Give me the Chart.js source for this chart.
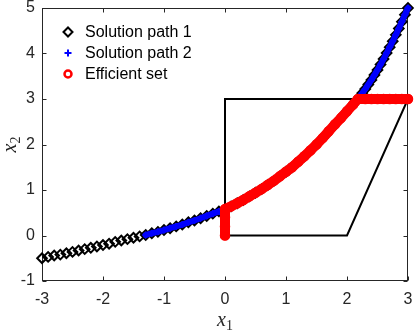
<!DOCTYPE html>
<html><head><meta charset="utf-8">
<script src="https://cdn.jsdelivr.net/npm/chart.js@4/dist/chart.umd.min.js"></script>
<style>html,body{margin:0;padding:0;background:#fff;overflow:hidden}canvas{display:block}</style>
</head><body>
<canvas id="c" width="416" height="333"></canvas>
<script>
// ---- data ----
const path1X = [-3.0,-2.9,-2.8,-2.7,-2.6,-2.5,-2.4,-2.3,-2.2,-2.1,-2.0,-1.9,-1.8,-1.7,-1.6,-1.5,-1.4,-1.3,-1.2,-1.1,
  -1.0,-0.9,-0.8,-0.7,-0.6,-0.5,-0.4,-0.3,-0.2,-0.1,0.0,0.1,0.2,0.3,0.4,0.5,0.6,0.7,0.8,0.9,1.0,
  1.05,1.1,1.15,1.2,1.25,1.3,1.35,1.4,1.45,1.5,1.55,1.6,1.65,1.7,1.75,1.8,1.85,1.9,1.95,2.0,
  2.05,2.1,2.15,2.2,2.25,2.3,2.35,2.4,2.45,2.5,2.55,2.6,2.65,2.7,2.75,2.8,2.85,2.9,2.95,3.0];
const path1Y = [-0.50,-0.47,-0.44,-0.42,-0.39,-0.36,-0.33,-0.30,-0.27,-0.24,-0.21,-0.18,-0.14,-0.11,-0.08,-0.05,-0.02,0.01,0.05,0.08,
  0.12,0.16,0.20,0.24,0.29,0.33,0.38,0.43,0.48,0.53,0.58,0.64,0.71,0.78,0.86,0.94,1.02,1.11,1.20,1.30,1.40,
  1.45,1.50,1.56,1.62,1.68,1.74,1.80,1.87,1.93,2.00,2.07,2.14,2.21,2.29,2.36,2.44,2.51,2.58,2.66,2.73,
  2.81,2.88,2.96,3.04,3.13,3.22,3.32,3.42,3.53,3.64,3.76,3.88,4.01,4.14,4.27,4.41,4.55,4.70,4.85,5.00];
const path2FromX = -1.3;
const effX = [0,0,0,0,0.1,0.2,0.3,0.4,0.5,0.6,0.7,0.8,0.9,1.0,1.1,1.2,1.3,1.4,1.5,1.6,1.7,1.8,1.9,2.0,2.1,2.18,2.3,2.4,2.5,2.6,2.7,2.8,2.9,3.0];
const effY = [0,0.2,0.4,0.58,0.64,0.71,0.78,0.86,0.94,1.02,1.11,1.20,1.30,1.40,1.50,1.62,1.74,1.87,2.00,2.14,2.29,2.44,2.58,2.73,2.88,3.0,3,3,3,3,3,3,3,3];
const polyX = [0,2,3,0,0];
const polyY = [0,0,3,3,0];
const xTicks = [-3,-2,-1,0,1,2,3];
const yTicks = [-1,0,1,2,3,4,5];
const legendLabels = ['Solution path 1','Solution path 2','Efficient set'];

const pts = (xs, ys) => xs.map((x, i) => ({x: x, y: ys[i]}));
const path1 = pts(path1X, path1Y);
const path2 = path1.filter(p => p.x >= path2FromX - 1e-9);

const SANS = "'Liberation Sans', Arial, Helvetica, sans-serif";
const SERIF = "'Liberation Serif', 'Times New Roman', serif";
const AX = '#262626';

function marker(ctx, style, x, y, r, lw, color) {
  ctx.save();
  ctx.strokeStyle = color; ctx.lineWidth = lw; ctx.beginPath();
  if (style === 'rectRot') { ctx.moveTo(x - r, y); ctx.lineTo(x, y - r); ctx.lineTo(x + r, y); ctx.lineTo(x, y + r); ctx.closePath(); }
  else if (style === 'cross') { ctx.moveTo(x - r, y); ctx.lineTo(x + r, y); ctx.moveTo(x, y - r); ctx.lineTo(x, y + r); }
  else { ctx.arc(x, y, r, 0, Math.PI * 2); }
  ctx.stroke(); ctx.restore();
}

const frame = {
  id: 'frame',
  beforeDatasetsDraw(chart) {
    const {ctx, chartArea: a, scales} = chart;
    ctx.save();
    ctx.strokeStyle = AX; ctx.lineWidth = 1;
    const L = Math.round(a.left) + 0.5, R = Math.round(a.right) - 0.5, T = Math.round(a.top) + 0.5, B = Math.round(a.bottom) - 0.5;
    ctx.strokeRect(L, T, R - L, B - T);
    ctx.beginPath();
    xTicks.forEach(v => { const px = Math.round(scales.x.getPixelForValue(v)) + 0.5; ctx.moveTo(px, B); ctx.lineTo(px, B - 4); ctx.moveTo(px, T); ctx.lineTo(px, T + 4); });
    yTicks.forEach(v => { const py = Math.round(scales.y.getPixelForValue(v)) + 0.5; ctx.moveTo(L, py); ctx.lineTo(L + 4, py); ctx.moveTo(R, py); ctx.lineTo(R - 4, py); });
    ctx.stroke();
    ctx.restore();
  },
  afterDraw(chart) {
    const {ctx, chartArea: a} = chart;
    ctx.save();
    // legend
    const styles = [['rectRot', 4.5, 2, '#000'], ['cross', 3.5, 2, '#0000ff'], ['circle', 3.5, 2.5, '#ff0000']];
    legendLabels.forEach((t, i) => {
      const y = 32 + i * 21;
      const s = styles[i];
      marker(ctx, s[0], 68, y, s[1], s[2], s[3]);
      ctx.fillStyle = '#000'; ctx.font = '16px ' + SANS; ctx.textBaseline = 'middle'; ctx.textAlign = 'left';
      ctx.fillText(t, 85, y + 1);
    });
    // axis titles
    ctx.fillStyle = AX; ctx.textBaseline = 'alphabetic'; ctx.textAlign = 'left';
    const cx = (a.left + a.right) / 2;
    ctx.font = 'italic 20px ' + SERIF;
    const wx = ctx.measureText('x').width;
    ctx.font = '14px ' + SERIF;
    const w1 = ctx.measureText('1').width;
    let x0 = cx - (wx + w1) / 2;
    ctx.font = 'italic 20px ' + SERIF; ctx.fillText('x', x0, 326);
    ctx.font = '14px ' + SERIF; ctx.fillText('1', x0 + wx, 330);
    ctx.save();
    ctx.translate(16, (a.top + a.bottom) / 2);
    ctx.rotate(-Math.PI / 2);
    x0 = -(wx + w1) / 2;
    ctx.font = 'italic 20px ' + SERIF; ctx.fillText('x', x0, 0);
    ctx.font = '14px ' + SERIF; ctx.fillText('2', x0 + wx, 4);
    ctx.restore();
    ctx.restore();
  }
};

new Chart(document.getElementById('c'), {
  type: 'scatter',
  data: {
    datasets: [
      { label: 'frame', data: pts(polyX, polyY), showLine: true, borderColor: '#000', borderWidth: 2, pointRadius: 0, order: 10, clip: false },
      { label: legendLabels[0], data: path1, showLine: false, pointStyle: 'rectRot', pointRadius: 4.8, pointBorderWidth: 2,
        pointBorderColor: '#000', pointBackgroundColor: 'rgba(0,0,0,0)', order: 4, clip: false },
      { label: legendLabels[1], data: path2, showLine: true, borderColor: '#0000ff', borderWidth: 6, borderCapStyle: 'round', borderJoinStyle: 'round',
        pointStyle: 'cross', pointRadius: 3.5, pointBorderWidth: 1.5, pointBorderColor: '#0000ff', order: 3, clip: false },
      { label: legendLabels[2], data: pts(effX, effY), showLine: true, borderColor: '#ff0000', borderWidth: 10, borderCapStyle: 'round', borderJoinStyle: 'round',
        pointStyle: 'circle', pointRadius: 4, pointBorderWidth: 2.5, pointBorderColor: '#ff0000', pointBackgroundColor: 'rgba(0,0,0,0)', order: 1, clip: false }
    ]
  },
  options: {
    responsive: false, animation: false, devicePixelRatio: 1,
    layout: { padding: { top: 8, right: 8, left: 0, bottom: 0 } },
    plugins: { legend: { display: false }, tooltip: { enabled: false } },
    elements: { line: { tension: 0 } },
    scales: {
      x: { type: 'linear', min: -3, max: 3,
        grid: { display: false, drawTicks: false }, border: { display: false },
        afterBuildTicks: s => { s.ticks = xTicks.map(v => ({value: v})); },
        afterFit: s => { s.height = 52; s.paddingLeft = 0; s.paddingRight = 0; },
        ticks: { color: AX, font: { family: SANS, size: 16 }, padding: 9, maxRotation: 0, autoSkip: false } },
      y: { type: 'linear', min: -1, max: 5,
        grid: { display: false, drawTicks: false }, border: { display: false },
        afterBuildTicks: s => { s.ticks = yTicks.map(v => ({value: v})); },
        afterFit: s => { s.width = 42; s.paddingTop = 0; s.paddingBottom = 0; },
        ticks: { color: AX, font: { family: SANS, size: 16 }, padding: 7, autoSkip: false } }
    }
  },
  plugins: [frame]
});
</script>
</body></html>
